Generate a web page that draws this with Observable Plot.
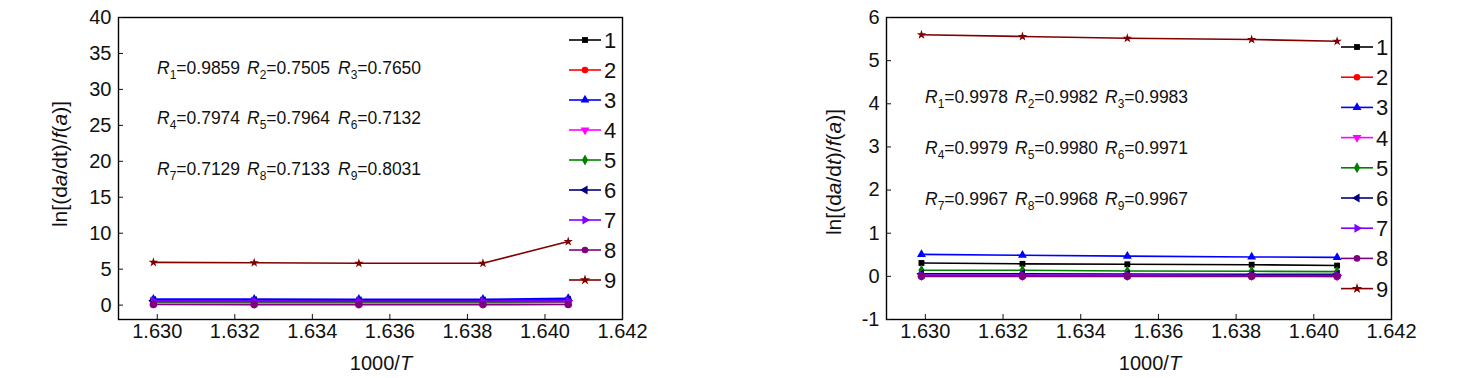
<!DOCTYPE html>
<html><head><meta charset="utf-8">
<script src="https://cdn.jsdelivr.net/npm/d3@7"></script>
<script src="https://cdn.jsdelivr.net/npm/@observablehq/plot@0.6"></script>
<style>
body{margin:0;background:#fff;}
#wrap{display:flex;width:1472px;height:378px;}
</style></head><body><div id="wrap"></div>
<script>
// ---- data ----
const xValues = [1.6299, 1.6325, 1.6352, 1.6384, 1.6406];
const xTicks = [1.630, 1.632, 1.634, 1.636, 1.638, 1.640, 1.642];
const seriesNames = ["1","2","3","4","5","6","7","8","9"];
const seriesColors = ["#000000","#ff0000","#0000ff","#ff00ff","#008000","#000080","#8000ff","#800080","#800000"];

// left panel
const leftY1 = [0.70, 0.69, 0.68, 0.68, 0.72];
const leftY2 = [0.55, 0.54, 0.54, 0.53, 0.56];
const leftY3 = [0.84, 0.83, 0.82, 0.82, 0.95];
const leftY4 = [0.35, 0.34, 0.34, 0.33, 0.36];
const leftY5 = [0.45, 0.44, 0.44, 0.43, 0.46];
const leftY6 = [0.65, 0.64, 0.63, 0.63, 0.67];
const leftY7 = [0.60, 0.59, 0.58, 0.58, 0.62];
const leftY8 = [0.08, 0.07, 0.07, 0.07, 0.08];
const leftY9 = [5.95, 5.90, 5.82, 5.82, 8.85];
const leftYTicks = [0, 5, 10, 15, 20, 25, 30, 35, 40];
const leftR = ["0.9859","0.7505","0.7650","0.7974","0.7964","0.7132","0.7129","0.7133","0.8031"];

// right panel
const rightY1 = [0.31, 0.29, 0.28, 0.27, 0.25];
const rightY2 = [0.02, 0.02, 0.02, 0.01, 0.01];
const rightY3 = [0.51, 0.49, 0.47, 0.45, 0.44];
const rightY4 = [0.01, 0.01, 0.01, 0.01, 0.00];
const rightY5 = [0.14, 0.14, 0.125, 0.117, 0.11];
const rightY6 = [0.06, 0.06, 0.055, 0.05, 0.05];
const rightY7 = [0.03, 0.03, 0.03, 0.02, 0.02];
const rightY8 = [0.00, 0.00, 0.00, 0.00, 0.00];
const rightY9 = [5.60, 5.56, 5.52, 5.49, 5.45];
const rightYTicks = [-1, 0, 1, 2, 3, 4, 5, 6];
const rightR = ["0.9978","0.9982","0.9983","0.9979","0.9980","0.9971","0.9967","0.9968","0.9967"];

// ---- symbols ----
function tri(angle){
  return {draw(ctx, size){
    const s = Math.sqrt(4*size/Math.sqrt(3)), r = s/Math.sqrt(3);
    for(let i=0;i<3;i++){const a=(angle+i*120)*Math.PI/180; const x=r*Math.sin(a), y=-r*Math.cos(a); if(i) ctx.lineTo(x,y); else ctx.moveTo(x,y);}
    ctx.closePath();
  }};
}
const symbols = ["square","circle","triangle",tri(180),"diamond",tri(270),tri(90),"circle","star"];
const d3Symbols = [d3.symbolSquare,d3.symbolCircle,d3.symbolTriangle,tri(180),d3.symbolDiamond,tri(270),tri(90),d3.symbolCircle,d3.symbolStar];
const FONT = '"Liberation Sans",Arial,sans-serif';

function panel(cfg){
  const data = cfg.series.flatMap((vals,i)=>vals.map((v,j)=>({x:xValues[j], y:v, s:i})));
  const marks = [
    Plot.frame({stroke:"#000", strokeWidth:1.4}),
    Plot.axisX({ticks:xTicks, tickFormat:d3.format(".3f"), tickSize:-5, tickPadding:9, label:null, fontSize:20}),
    Plot.axisY({ticks:cfg.yTicks, tickFormat:d=>String(d), tickSize:-5, tickPadding:12, label:null, fontSize:20}),
  ];
  cfg.series.forEach((vals,i)=>{
    const d = data.filter(o=>o.s===i);
    marks.push(Plot.line(d,{x:"x",y:"y",stroke:seriesColors[i],strokeWidth:1.6}));
    marks.push(Plot.dot(d,{x:"x",y:"y",symbol:symbols[i],fill:seriesColors[i],r:i===7?3.8:(i===8?3:3.3)}));
  });
  const svg = Plot.plot({
    width:cfg.width, height:378, marginLeft:cfg.ml, marginRight:cfg.mr, marginTop:17, marginBottom:59,
    x:{domain:[1.629,1.642]}, y:{domain:cfg.yDomain},
    style:{fontFamily:FONT, color:"#111", background:"#fff"},
    marks
  });
  const g = d3.select(svg).append("g").attr("font-family",FONT).attr("fill","#111").attr("text-anchor","start");
  // x title
  const xt = g.append("text").attr("x",cfg.xTitleX).attr("y",370).attr("text-anchor","middle").attr("font-size",20);
  xt.append("tspan").text("1000/"); xt.append("tspan").attr("font-style","italic").text("T");
  // y title
  const yt = g.append("text").attr("transform",`translate(${cfg.yTitleX},${cfg.yTitleY}) rotate(-90)`).attr("text-anchor","middle").attr("font-size",21);
  const parts = [["ln[(d",0],["a",1],["/d",0],["t",cfg.tItalic?1:0],[")/",0],["f",1],["(",0],["a",1],[")]",0]];
  parts.forEach(([t,it])=>yt.append("tspan").attr("font-style",it?"italic":null).text(t));
  // R annotations
  cfg.R.forEach((val,k)=>{
    const row = Math.floor(k/3), col = k%3;
    const t = g.append("text").attr("x",cfg.rX[col]).attr("y",cfg.rY[row]).attr("font-size",17.5);
    t.append("tspan").attr("font-style","italic").text("R");
    t.append("tspan").attr("font-size",12).attr("dy",5).text(String(k+1));
    t.append("tspan").attr("dy",-5).text("="+val);
  });
  // legend
  seriesNames.forEach((name,i)=>{
    const y = cfg.legY + i*cfg.legDy;
    g.append("line").attr("x1",cfg.legX).attr("x2",cfg.legX+32).attr("y1",y).attr("y2",y).attr("stroke",seriesColors[i]).attr("stroke-width",1.6);
    g.append("path").attr("transform",`translate(${cfg.legX+16},${y})`).attr("d",d3.symbol(d3Symbols[i], Math.PI*3.3*3.3)()).attr("fill",seriesColors[i]);
    g.append("text").attr("x",cfg.legX+35).attr("y",y).attr("dy","0.36em").attr("font-size",22).text(name);
  });
  return svg;
}

const wrap = document.getElementById("wrap");
wrap.appendChild(panel({
  series:[leftY1,leftY2,leftY3,leftY4,leftY5,leftY6,leftY7,leftY8,leftY9],
  yDomain:[-2,40], yTicks:leftYTicks, width:736, ml:118, mr:114,
  xTitleX:381, yTitleX:67, yTitleY:164, tItalic:false,
  R:leftR, rX:[157,247,338], rY:[74,124,175],
  legX:569, legY:40, legDy:30
}));
wrap.appendChild(panel({
  series:[rightY1,rightY2,rightY3,rightY4,rightY5,rightY6,rightY7,rightY8,rightY9],
  yDomain:[-1,6], yTicks:rightYTicks, width:736, ml:150, mr:81,
  xTitleX:1150-736, yTitleX:841-736, yTitleY:172, tItalic:true,
  R:rightR, rX:[925-736,1015-736,1105-736], rY:[103,154,205],
  legX:1341-736, legY:47, legDy:30.2
}));
</script></body></html>
